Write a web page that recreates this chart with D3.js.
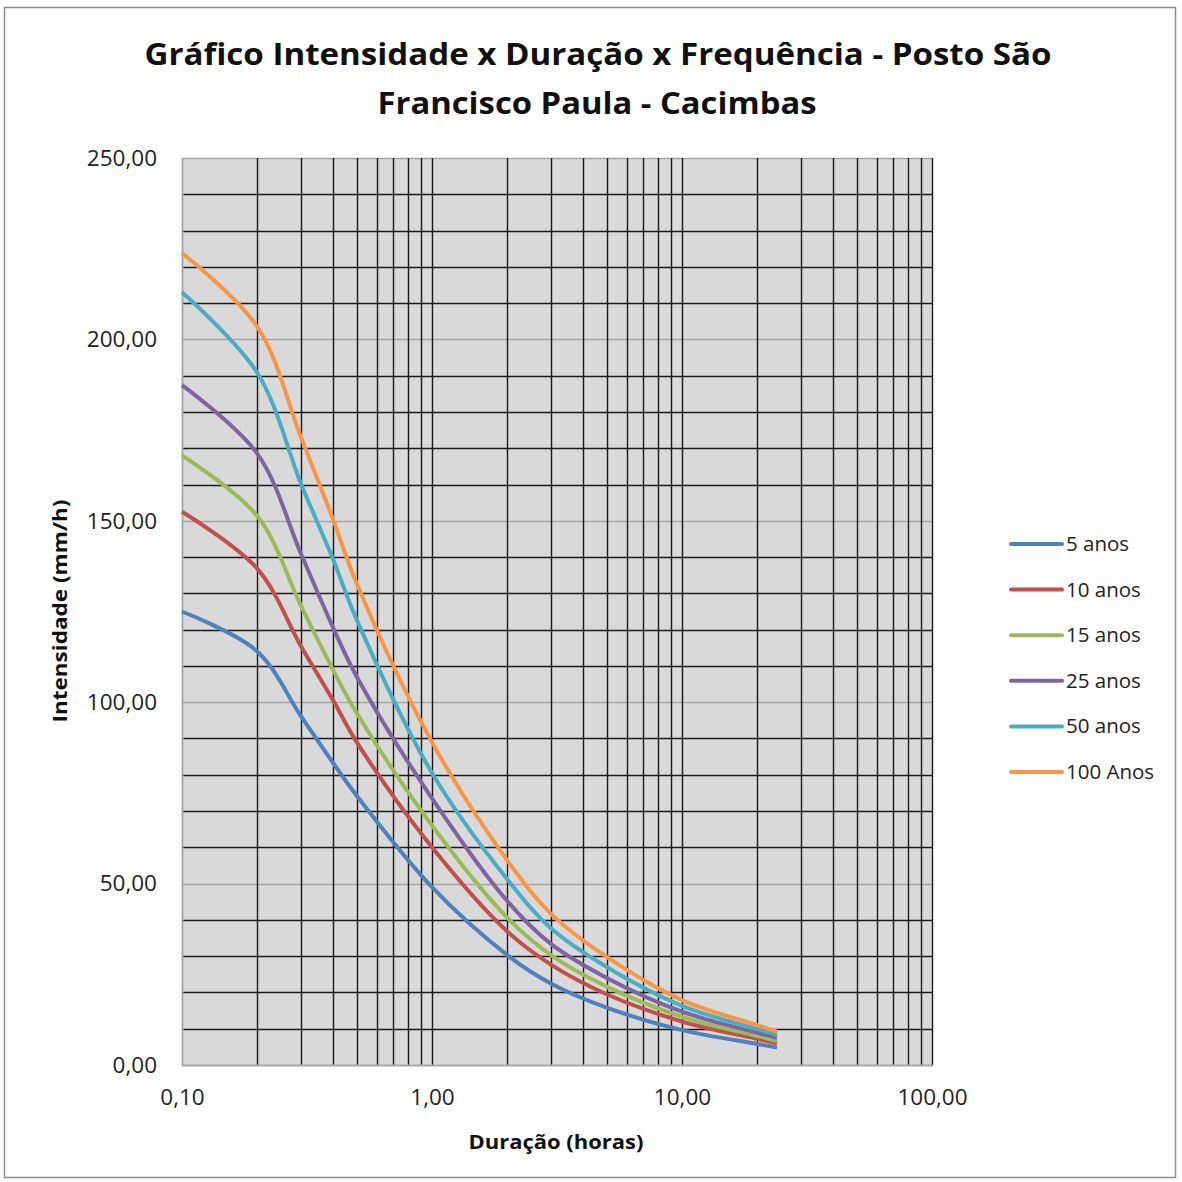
<!DOCTYPE html>
<html>
<head>
<meta charset="utf-8">
<script src="https://cdn.jsdelivr.net/npm/d3@7"></script>
<style>
  html, body { margin: 0; padding: 0; background: #fff; }
  svg { display: block; }
</style>
</head>
<body>
<svg id="chart" width="1182" height="1182"></svg>
<script>
// ---- data ----
const durations = [0.1, 0.2, 0.3, 0.4, 0.5, 1, 2, 3, 5, 10, 20, 24];
const seriesNames = ["5 anos", "10 anos", "15 anos", "25 anos", "50 anos", "100 Anos"];
const s5   = [125.0, 114.0, 96.0, 83.5, 74.2, 49.0, 30.3, 22.4, 15.8, 9.6, 5.8, 4.8];
const s10  = [152.5, 136.8, 115.3, 100.8, 89.0, 60.0, 36.8, 27.6, 19.5, 12.0, 7.2, 6.0];
const s15  = [168.0, 151.3, 126.4, 109.2, 97.0, 66.0, 40.6, 30.2, 21.6, 13.3, 8.0, 6.7];
const s25  = [187.4, 168.5, 140.7, 120.9, 107.0, 73.5, 45.2, 33.3, 24.0, 14.7, 8.9, 7.5];
const s50  = [213.0, 190.8, 160.0, 139.8, 122.7, 80.5, 51.2, 37.6, 27.0, 16.3, 9.9, 8.3];
const s100 = [223.8, 203.5, 172.8, 150.8, 132.7, 89.0, 56.4, 41.6, 29.8, 17.9, 11.0, 9.2];
const seriesValues = [s5, s10, s15, s25, s50, s100];
const colors = ["#4F81BD", "#C0504D", "#9BBB59", "#8064A2", "#4BACC6", "#F79646"];
const xTickValues = [0.1, 1, 10, 100];
const yTickValues = [0, 50, 100, 150, 200, 250];
const titleLines = ["Gráfico Intensidade x Duração x Frequência - Posto São", "Francisco Paula - Cacimbas"];
const xTitle = "Duração (horas)";
const yTitle = "Intensidade (mm/h)";

// ---- layout ----
const svg = d3.select("#chart");
const pL = 182, pR = 932, pT = 158, pB = 1065;
const x = d3.scaleLog().domain([0.1, 100]).range([pL, pR]);
const y = d3.scaleLinear().domain([0, 250]).range([pB, pT]);
const ptBR = d3.formatLocale({decimal: ",", thousands: ".", grouping: [3], currency: ["", ""]});
const fmt = ptBR.format(".2f");
const FONT = "'Open Sans', 'Noto Sans', sans-serif";

// outer border
svg.append("rect").attr("x", 4.5).attr("y", 7.5).attr("width", 1171).attr("height", 1170)
  .attr("fill", "#fff").attr("stroke", "#8c8c8c").attr("stroke-width", 1.5);

// plot background
svg.append("rect").attr("x", pL).attr("y", pT).attr("width", pR - pL).attr("height", pB - pT)
  .attr("fill", "#d9d9d9");

// horizontal gridlines (every 10; multiples of 50 gray)
const hVals = d3.range(10, 251, 10);
svg.append("g").selectAll("line").data(hVals).join("line")
  .attr("x1", pL).attr("x2", pR)
  .attr("y1", d => Math.round(y(d)) + 0.5).attr("y2", d => Math.round(y(d)) + 0.5)
  .attr("stroke", d => d % 50 === 0 ? "#a6a6a6" : "#1a1a1a")
  .attr("stroke-width", d => d % 50 === 0 ? 1.6 : 1.4);

// vertical gridlines (log minor)
const vVals = [];
[0.1, 1, 10].forEach(dec => { for (let k = 2; k <= 10; k++) vVals.push(+(dec * k).toFixed(4)); });
svg.append("g").selectAll("line").data(vVals).join("line")
  .attr("y1", pT).attr("y2", pB)
  .attr("x1", d => Math.round(x(d)) + 0.5).attr("x2", d => Math.round(x(d)) + 0.5)
  .attr("stroke", "#1a1a1a").attr("stroke-width", 1.4);

// axes lines (left & bottom gray)
svg.append("line").attr("x1", pL + 0.5).attr("x2", pL + 0.5).attr("y1", pT).attr("y2", pB + 1)
  .attr("stroke", "#a6a6a6").attr("stroke-width", 1.8);
svg.append("line").attr("x1", pL).attr("x2", pR + 1).attr("y1", pB + 0.5).attr("y2", pB + 0.5)
  .attr("stroke", "#a6a6a6").attr("stroke-width", 1.8);

// axes tick labels via d3 axes
const yAxis = d3.axisLeft(y).tickValues(yTickValues).tickFormat(fmt).tickSize(0).tickPadding(25);
const gy = svg.append("g").attr("transform", `translate(${pL},0)`).call(yAxis);
gy.select(".domain").remove();
gy.selectAll("text").attr("font-family", FONT).attr("font-size", 22.5).attr("fill", "#222");

const xAxis = d3.axisBottom(x).tickValues(xTickValues).tickFormat(fmt).tickSize(0).tickPadding(24);
const gx = svg.append("g").attr("transform", `translate(0,${pB})`).call(xAxis);
gx.select(".domain").remove();
gx.selectAll("text").attr("font-family", FONT).attr("font-size", 22.5).attr("fill", "#222");

// series
const line = d3.line().x(d => x(d[0])).y(d => y(d[1])).curve(d3.curveCatmullRom.alpha(0.5));
seriesValues.forEach((vals, i) => {
  const pts = durations.map((d, j) => [d, vals[j]]);
  svg.append("path").datum(pts).attr("d", line)
    .attr("fill", "none").attr("stroke", colors[i]).attr("stroke-width", 4)
    .attr("stroke-linejoin", "round");
});

// title
svg.append("text").attr("x", 598).attr("y", 65).attr("text-anchor", "middle")
  .attr("font-family", FONT).attr("font-weight", "bold").attr("font-size", 31).attr("fill", "#111")
  .attr("textLength", 907).attr("lengthAdjust", "spacingAndGlyphs").text(titleLines[0]);
svg.append("text").attr("x", 597).attr("y", 114).attr("text-anchor", "middle")
  .attr("font-family", FONT).attr("font-weight", "bold").attr("font-size", 31).attr("fill", "#111")
  .attr("textLength", 439).attr("lengthAdjust", "spacingAndGlyphs").text(titleLines[1]);

// axis titles
svg.append("text").attr("x", 556).attr("y", 1149).attr("text-anchor", "middle")
  .attr("font-family", FONT).attr("font-weight", "bold").attr("font-size", 20).attr("fill", "#111")
  .attr("textLength", 175).attr("lengthAdjust", "spacingAndGlyphs").text(xTitle);
svg.append("text").attr("transform", "translate(67,611) rotate(-90)").attr("text-anchor", "middle")
  .attr("font-family", FONT).attr("font-weight", "bold").attr("font-size", 20).attr("fill", "#111")
  .attr("textLength", 223).attr("lengthAdjust", "spacingAndGlyphs").text(yTitle);

// legend
const legendY0 = 544, legendStep = 45.6;
const lg = svg.append("g");
seriesNames.forEach((name, i) => {
  const yy = legendY0 + i * legendStep;
  lg.append("line").attr("x1", 1011).attr("x2", 1062).attr("y1", yy).attr("y2", yy)
    .attr("stroke", colors[i]).attr("stroke-width", 4).attr("stroke-linecap", "round");
  lg.append("text").attr("x", 1066).attr("y", yy + 7).attr("font-family", FONT)
    .attr("font-size", 20.5).attr("fill", "#222").text(name);
});
</script>
</body>
</html>
